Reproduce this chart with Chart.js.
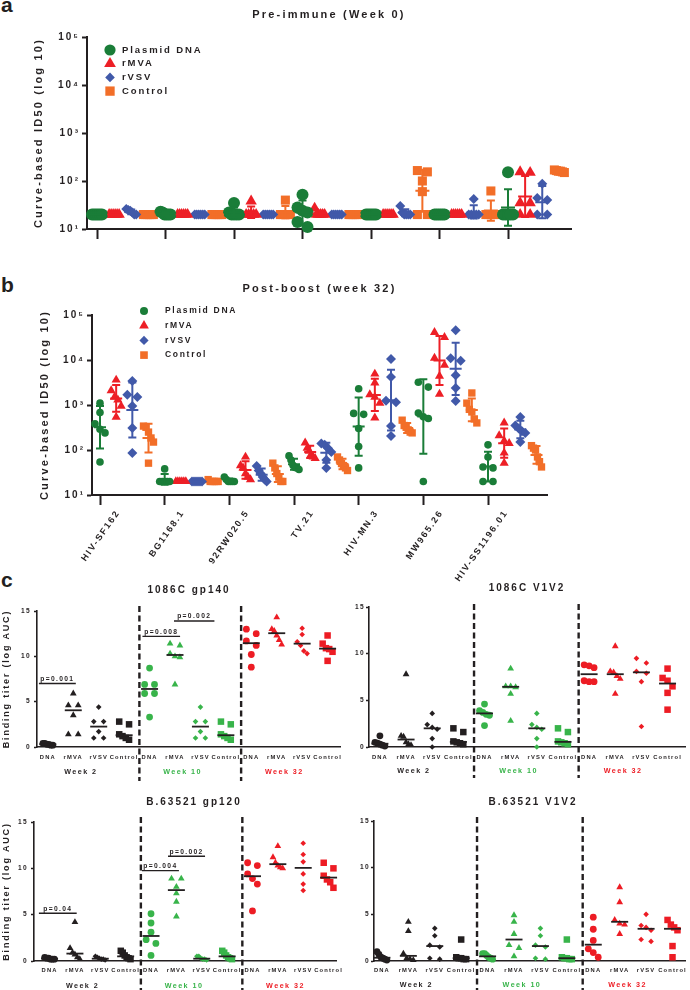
<!DOCTYPE html>
<html><head><meta charset="utf-8">
<script src="https://cdn.jsdelivr.net/npm/chart.js@4.4.1/dist/chart.umd.min.js"></script>
<style>
body{margin:0;background:#fff;}
#wrap{position:relative;width:690px;height:990px;overflow:hidden;font-family:"Liberation Sans",Arial,sans-serif;}
canvas{position:absolute;}
.lab{position:absolute;font-weight:bold;font-size:21px;line-height:24px;color:#231f20;}
</style></head><body><div id="wrap">
<div class="lab" style="left:1px;top:-7px">a</div>
<div class="lab" style="left:1px;top:273px">b</div>
<div class="lab" style="left:1px;top:568px">c</div>
</div>
<script>
// ================= DATA =================
const strains = ['HIV-SF162','BG1168.1','92RW020.5','TV.21','HIV-MN.3','MW965.26','HIV-SS1196.01'];
const vaccines = ['Plasmid DNA','rMVA','rVSV','Control'];
const decadeTicks = [1e1,1e2,1e3,1e4,1e5];

// a: pre-immune (week 0) ID50, one inner array per strain
const preDNA  = [[20,20,20,20,20,20],[23,22,20,20,20,20],[35,22,20,20,20,20],[52,28,24,22,14,11],[20,20,20,20,20,20],[20,20,20,20,20,20],[153,20,20,20,20,20]];
const preMVA  = [[20,20,20,20,20,20],[20,20,20,20,20,20],[38,20,20,20,20,20],[27,20,20,20,20,20],[20,20,20,20,20,20],[20,20,20,20,20,20],[155,150,35,35,20,20]];
const preVSV  = [[26,25,24,22,20,20],[20,20,20,20,20,20],[20,20,20,20,20,20],[20,20,20,20,20,20],[30,22,20,20,20,20],[42,20,20,20,20,20],[88,44,40,20,20]];
const preCtrl = [[20,20,20,20,20,20],[20,20,20,20,20,20],[40,20,20,20,20,20],[20,20,20,20,20,20],[165,155,100,60,20,20],[62,20,20,20,20,20],[170,165,160,160,155,150]];

// b: post-boost (week 32) ID50
const postDNA  = [[1100,680,380,290,240,54],[38,20,20,20,20,20],[25,22,20,20,20,20],[74,60,46,41,40,37],[2300,650,620,300,120,40],[3200,2500,660,550,500,20],[130,70,42,40,20,20]];
const postMVA  = [[3600,2100,1500,1300,950,540],[20,20,20,20,20,20],[70,45,40,30,25,22],[145,110,95,80,70,65],[4900,3100,1700,1500,1100,520],[41000,32000,11000,7700,4400,1750],[400,210,160,140,86,51]];
const postVSV  = [[3400,1700,1500,950,310,86],[20,20,20,20,20,20],[44,35,30,25,22,20],[140,130,110,90,60,40],[10500,4200,1250,1150,340,205],[46000,11000,9600,4600,2400,1230],[540,350,300,260,240,150]];
const postCtrl = [[340,320,250,185,150,51],[22,20,20,20,20,20],[51,40,30,25,20,20],[70,60,50,45,40,35],[460,350,320,280,250,240],[1850,1100,800,700,490,400],[125,110,100,70,55,42]];

// c: binding titers (log AUC); each week = [DNA, rMVA, rVSV, Control]
const groups = ['DNA','rMVA','rVSV','Control'];
const weeks = ['Week 2','Week 10','Week 32'];
const gp140W2  = [[0.4,0.3,0.2,0.3,0.4,0.2],[5.9,4.6,4.6,3.5,1.4,1.4],[4.4,2.8,2.8,1.7,1.0,1.0],[2.8,2.5,1.4,1.2,1.0,0.8]];
const gp140W10 = [[8.7,6.9,6.9,5.9,5.9,3.3],[11.4,11.2,10.3,10.0,9.9,6.9],[4.4,2.8,2.8,1.7,1.0,1.0],[2.8,2.5,1.4,1.2,1.0,0.8]];
const gp140W32 = [[13.0,12.5,11.7,11.2,10.2,8.8],[14.3,13.0,12.8,12.3,11.8,11.3],[13.1,12.4,11.6,11.2,10.6,10.3],[12.3,11.4,10.9,10.8,10.5,9.5]];
const cV1V2W2  = [[1.2,0.5,0.4,0.3,0.2,0.1],[7.8,1.2,1.1,0.5,0.3,0.2],[3.6,2.4,2.1,1.9,0.9,0.0],[2.0,1.6,0.6,0.5,0.4,0.3]];
const cV1V2W10 = [[4.6,3.9,3.7,3.5,3.4,2.3],[8.4,6.5,6.5,6.4,5.7,2.8],[3.6,2.4,2.1,1.9,0.9,0.0],[2.0,1.6,0.6,0.5,0.4,0.3]];
const cV1V2W32 = [[8.8,8.7,8.5,7.1,7.0,7.0],[10.8,8.1,8.0,7.6,7.3,5.7],[9.5,9.0,8.1,7.9,7.0,2.2],[8.4,7.4,7.1,6.5,5.8,4.0]];
const gp120W2  = [[0.4,0.3,0.3,0.2,0.2,0.2],[4.2,1.4,0.9,0.7,0.4,0.2],[0.5,0.4,0.3,0.2,0.2,0.1],[1.1,0.9,0.6,0.4,0.3,0.2]];
const gp120W10 = [[5.1,4.1,3.1,2.3,1.9,0.6],[8.9,8.9,8.0,7.3,6.4,4.8],[0.5,0.5,0.3,0.2,0.2,0.1],[1.1,0.9,0.6,0.4,0.3,0.2]];
const gp120W32 = [[10.6,10.3,9.4,8.9,8.3,5.4],[12.4,11.2,10.6,10.3,10.1,10.0],[12.7,11.5,10.7,9.4,8.3,7.6],[10.6,10.0,9.2,8.8,8.5,7.9]];
const bV1V2W2  = [[1.0,0.7,0.4,0.3,0.2,0.1],[4.2,3.2,0.8,0.3,0.2,0.1],[3.5,2.7,1.7,1.5,0.3,0.2],[2.3,0.4,0.3,0.3,0.2,0.2]];
const bV1V2W10 = [[0.8,0.8,0.6,0.4,0.3,0.2],[4.9,4.2,2.9,1.7,1.4,0.5],[3.5,2.7,1.7,1.5,0.3,0.2],[2.3,0.4,0.3,0.3,0.2,0.2]];
const bV1V2W32 = [[4.7,3.4,2.2,1.3,0.9,0.4],[7.9,6.3,4.4,4.0,3.9,2.9],[5.0,3.8,3.6,3.3,2.3,2.1],[4.4,3.9,3.6,3.3,1.6,0.4]];
// significance bars: group-index span, titer level, label
const pGp140 = [{x0:-0.35,x1:1.1,y:7.0,t:'p=0.001'},{x0:3.72,x1:5.2,y:12.2,t:'p=0.008'},{x0:4.96,x1:6.55,y:13.9,t:'p=0.002'}];
const pGp120 = [{x0:-0.42,x1:1.07,y:5.15,t:'p=0.04'},{x0:3.64,x1:5.1,y:9.75,t:'p=0.004'},{x0:4.67,x1:6.13,y:11.3,t:'p=0.002'}];

// ================= STYLE / HELPERS =================
const INK = '#231f20';
const FONT = '"Liberation Sans", Arial, Helvetica, sans-serif';
const COL = {dna:'#1a7d38', mva:'#ed1f26', vsv:'#4159a9', ctrl:'#f26e28'};
const weekColors = [INK, '#38b44a', '#ed1c24'];
const cStyles = ['circle','triangle','rectRot','rect'];
const cRadius = [3.4, 3.9, 2.8, 4.6];
const SUP = {1:'\u00b9',2:'\u00b2',3:'\u00b3',4:'\u2074',5:'\u2075'};
const TCRIT = [0,12.71,4.30,3.18,2.78,2.57,2.45,2.36];

Chart.defaults.font.family = FONT;
Chart.defaults.color = INK;

// letter-spaced text, like the original figure
(function(){
  const P = CanvasRenderingContext2D.prototype, ft = P.fillText;
  P.fillText = function(t, x, y){
    const m = /([\d.]+)px/.exec(this.font); const fs = m ? parseFloat(m[1]) : 10;
    const has = 'letterSpacing' in this; const prev = has ? this.letterSpacing : null;
    if (has) this.letterSpacing = (fs * 0.2).toFixed(2) + 'px';
    ft.call(this, t, x, y);
    if (has) this.letterSpacing = prev;
  };
})();

const wrap = document.getElementById('wrap');
function makeCanvas(b){
  const c = document.createElement('canvas');
  c.width = b.w; c.height = b.h;
  c.style.left = b.x + 'px'; c.style.top = b.y + 'px';
  c.style.width = b.w + 'px'; c.style.height = b.h + 'px';
  wrap.appendChild(c); return c;
}
function drawMarker(ctx, style, x, y, r){
  ctx.beginPath();
  if (style === 'circle') ctx.arc(x, y, r, 0, Math.PI*2);
  else if (style === 'triangle') {
    ctx.moveTo(x, y - r);
    ctx.lineTo(x + r*Math.sin(2*Math.PI/3), y - r*Math.cos(2*Math.PI/3));
    ctx.lineTo(x + r*Math.sin(4*Math.PI/3), y - r*Math.cos(4*Math.PI/3));
    ctx.closePath();
  } else if (style === 'rectRot') {
    ctx.moveTo(x - r, y); ctx.lineTo(x, y - r); ctx.lineTo(x + r, y); ctx.lineTo(x, y + r); ctx.closePath();
  } else { const s = r*Math.SQRT1_2; ctx.rect(x - s, y - s, 2*s, 2*s); }
  ctx.fill();
}
// deterministic scatter spreading: points that would overlap vertically are spread sideways
function swarmOffsets(vals, toPx, tolPx, maxSpread, pairStep){
  const idx = vals.map((v,i)=>i).sort((a,b)=>toPx(vals[a]) - toPx(vals[b]));
  const off = vals.map(()=>0);
  let bin = [];
  const flush = () => {
    const n = bin.length;
    if (n > 1) { const st = Math.min(pairStep, maxSpread/(n-1)); bin.forEach((k,j)=>{ off[k] = (j - (n-1)/2)*st; }); }
    bin = [];
  };
  idx.forEach(k => {
    if (bin.length && Math.abs(toPx(vals[k]) - toPx(vals[bin[bin.length-1]])) >= tolPx) flush();
    bin.push(k);
  });
  flush();
  return off;
}
function median(a){ const s = a.slice().sort((x,y)=>x-y); const n = s.length; return n%2 ? s[(n-1)/2] : (s[n/2-1]+s[n/2])/2; }

// ================= PANELS a & b (log ID50) =================
function logPanel(o){
  const cv = makeCanvas(o.box);
  const pxU = (o.lastTick - o.firstTick)/(strains.length-1);
  const xmin = (o.area.l - o.firstTick)/pxU, xmax = (o.area.r - o.firstTick)/pxU;
  const pxDec = (o.area.b - o.area.t)/4;
  const datasets = o.series.map((s, si) => {
    const pts = [];
    s.data.forEach((vals, ci) => {
      const off = swarmOffsets(vals, v => -Math.log10(v)*pxDec, o.tol, o.spread, o.pair);
      vals.forEach((v,k) => pts.push({x: ci + 0.25*si + off[k]/pxU, y: v}));
    });
    return {label: s.label, data: pts, pointStyle: s.style, pointRadius: s.r, pointHoverRadius: s.r,
      pointBackgroundColor: s.color, backgroundColor: s.color, pointBorderWidth: 0, borderColor: s.color,
      showLine: false, clip: false};
  });
  const bx = o.box.x, by = o.box.y;
  const extras = {
    id: 'extras',
    afterDatasetsDraw(chart){
      const {ctx, scales:{x, y}, chartArea} = chart;
      ctx.save();
      o.series.forEach((s, si) => {
        s.data.forEach((vals, ci) => {
          const L = vals.map(Math.log10), n = L.length;
          const m = L.reduce((a,b)=>a+b,0)/n;
          const sd = n > 1 ? Math.sqrt(L.reduce((a,b)=>a+(b-m)*(b-m),0)/(n-1)) : 0;
          const ci95 = n > 1 ? TCRIT[n-1]*sd/Math.sqrt(n) : 0;
          const px = x.getPixelForValue(ci + 0.25*si);
          const yM = y.getPixelForValue(Math.pow(10, m));
          const yHi = y.getPixelForValue(Math.pow(10, m + ci95));
          let yLo = y.getPixelForValue(Math.pow(10, m - ci95));
          const clipped = yLo > chartArea.bottom; if (clipped) yLo = chartArea.bottom;
          ctx.strokeStyle = s.color; ctx.lineWidth = 2;
          ctx.beginPath();
          if (ci95 > 0.005) {
            ctx.moveTo(px, yHi); ctx.lineTo(px, yLo);
            ctx.moveTo(px - o.cap, yHi); ctx.lineTo(px + o.cap, yHi);
            if (!clipped) { ctx.moveTo(px - o.cap, yLo); ctx.lineTo(px + o.cap, yLo); }
          }
          ctx.moveTo(px - o.meanW, yM); ctx.lineTo(px + o.meanW, yM);
          ctx.stroke();
        });
      });
      // legend
      o.series.forEach((s, i) => {
        const ly = o.legend.y0 + i*o.legend.dy - by;
        ctx.fillStyle = s.color;
        drawMarker(ctx, s.style, o.legend.x - bx, ly, s.lr);
        ctx.fillStyle = INK; ctx.font = 'bold ' + o.legend.fs + 'px ' + FONT;
        ctx.textAlign = 'left'; ctx.textBaseline = 'middle';
        ctx.fillText(s.label, o.legend.tx - bx, ly);
      });
      // title
      ctx.fillStyle = INK; ctx.font = 'bold 11px ' + FONT; ctx.textAlign = 'center'; ctx.textBaseline = 'middle';
      ctx.fillText(o.title, (chartArea.left + chartArea.right)/2, o.titleY - by);
      ctx.restore();
    }
  };
  new Chart(cv, {
    type: 'scatter',
    data: {datasets},
    plugins: [extras],
    options: {
      responsive: false, animation: false, events: [],
      layout: {padding: {left: o.padL, top: o.area.t - by, right: bx + o.box.w - o.area.r, bottom: 0}},
      plugins: {legend: {display: false}, tooltip: {enabled: false}, title: {display: false}},
      scales: {
        x: {type: 'linear', min: xmin, max: xmax,
          afterBuildTicks: s => { s.ticks = strains.map((c,i)=>({value: i})); },
          afterFit: s => { s.height = by + o.box.h - o.area.b; },
          border: {display: true, color: INK, width: 2},
          grid: {display: true, drawOnChartArea: false, drawTicks: true, tickLength: 10, tickWidth: 2, tickColor: INK},
          ticks: {display: o.showLabels, autoSkip: false, maxRotation: 55, minRotation: 55, labelOffset: o.labelOffset, padding: 3,
            color: INK, font: {size: 9, weight: 'bold'}, callback: v => strains[v]}
        },
        y: {type: 'logarithmic', min: 10, max: 1e5,
          afterBuildTicks: s => { s.ticks = decadeTicks.map(v => ({value: v})); },
          afterFit: s => { s.width = o.area.l - bx - o.padL; },
          border: {display: true, color: INK, width: 2},
          grid: {display: true, drawOnChartArea: false, drawTicks: true, tickLength: 5, tickWidth: 2, tickColor: INK},
          ticks: {padding: 2, color: INK, font: {size: 10, weight: 'bold'}, callback: v => '10' + SUP[Math.round(Math.log10(v))]},
          title: {display: true, text: 'Curve-based ID50 (log 10)', color: INK, font: {size: 11, weight: 'bold'}, padding: {top: o.titlePad, bottom: 0}}
        }
      }
    }
  });
}

logPanel({
  box: {x:0, y:0, w:690, h:245}, area: {l:87, r:571, t:37, b:229}, firstTick: 97, lastTick: 508,
  padL: 28, titlePad: 4, title: 'Pre-immune (Week 0)', titleY: 15, showLabels: false, labelOffset: 0,
  tol: 8, spread: 10, pair: 10, cap: 4, meanW: 7,
  legend: {x: 110, tx: 122, y0: 50, dy: 13.7, fs: 9.5},
  series: [
    {label: vaccines[0], color: COL.dna,  style: 'circle',   r: 6,   lr: 5.6, data: preDNA},
    {label: vaccines[1], color: COL.mva,  style: 'triangle', r: 6.6, lr: 6.8, data: preMVA},
    {label: vaccines[2], color: COL.vsv,  style: 'rectRot',  r: 5,   lr: 4.8, data: preVSV},
    {label: vaccines[3], color: COL.ctrl, style: 'rect',     r: 6.4, lr: 6.6, data: preCtrl}
  ]
});
logPanel({
  box: {x:0, y:245, w:690, h:340}, area: {l:92, r:547, t:315, b:495}, firstTick: 100, lastTick: 488,
  padL: 34, titlePad: 4, title: 'Post-boost (week 32)', titleY: 289, showLabels: true, labelOffset: 18,
  tol: 7, spread: 10, pair: 10, cap: 4, meanW: 6,
  legend: {x: 144, tx: 165, y0: 311, dy: 14.7, fs: 8.5},
  series: [
    {label: vaccines[0], color: COL.dna,  style: 'circle',   r: 3.8, lr: 4,   data: postDNA},
    {label: vaccines[1], color: COL.mva,  style: 'triangle', r: 5.3, lr: 5.6, data: postMVA},
    {label: vaccines[2], color: COL.vsv,  style: 'rectRot',  r: 5,   lr: 4.6, data: postVSV},
    {label: vaccines[3], color: COL.ctrl, style: 'rect',     r: 5.2, lr: 5.4, data: postCtrl}
  ]
});

// ================= PANEL c (binding titers) =================
function aucPanel(o){
  const cv = makeCanvas(o.box);
  const bx = o.box.x, by = o.box.y;
  const pxU = (o.lastPx - o.firstPx)/11;
  const xmin = (o.area.l - o.firstPx)/pxU, xmax = (o.area.r - o.firstPx)/pxU;
  const pxV = (o.area.b - o.area.t)/15;
  const datasets = [];
  o.weeksData.forEach((wk, wi) => wk.forEach((vals, gi) => {
    const xi = wi*4 + gi;
    const off = swarmOffsets(vals, v => -v*pxV, 6, 10, 10);
    datasets.push({label: weeks[wi] + ' ' + groups[gi], data: vals.map((v,k)=>({x: xi + off[k]/pxU, y: v})),
      pointStyle: cStyles[gi], pointRadius: cRadius[gi], pointHoverRadius: cRadius[gi],
      pointBackgroundColor: weekColors[wi], backgroundColor: weekColors[wi], pointBorderWidth: 0,
      showLine: false, clip: false});
  }));
  const extras = {
    id: 'extrasC',
    afterDatasetsDraw(chart){
      const {ctx, scales:{x, y}, chartArea} = chart;
      ctx.save();
      // medians
      ctx.strokeStyle = INK; ctx.lineWidth = 1.8;
      o.weeksData.forEach((wk, wi) => wk.forEach((vals, gi) => {
        const px = x.getPixelForValue(wi*4 + gi), py = y.getPixelForValue(median(vals));
        ctx.beginPath(); ctx.moveTo(px - 8.5, py); ctx.lineTo(px + 8.5, py); ctx.stroke();
      }));
      // dashed separators
      ctx.lineWidth = 2.4; ctx.setLineDash([6, 3.5]);
      [3.6, 7.6].forEach(v => {
        const px = x.getPixelForValue(v);
        ctx.beginPath(); ctx.moveTo(px, o.dash[0] - by); ctx.lineTo(px, o.dash[1] - by); ctx.stroke();
      });
      ctx.setLineDash([]);
      // significance bars
      ctx.lineWidth = 1.4; ctx.fillStyle = INK; ctx.font = 'bold 6.7px ' + FONT;
      ctx.textAlign = 'center'; ctx.textBaseline = 'bottom';
      (o.pvals || []).forEach(p => {
        const x0 = x.getPixelForValue(p.x0), x1 = x.getPixelForValue(p.x1), py = y.getPixelForValue(p.y);
        ctx.beginPath(); ctx.moveTo(x0, py); ctx.lineTo(x1, py); ctx.stroke();
        ctx.fillText(p.t, (x0 + x1)/2, py - 1);
      });
      // week labels
      ctx.font = 'bold 7.2px ' + FONT; ctx.textBaseline = 'middle';
      weeks.forEach((w, wi) => { ctx.fillStyle = weekColors[wi]; ctx.fillText(w, x.getPixelForValue(1.3 + 4*wi), o.weekY - by); });
      // title
      ctx.fillStyle = INK; ctx.font = 'bold 10px ' + FONT;
      ctx.fillText(o.title, o.titleX - bx, o.titleY - by);
      ctx.restore();
    }
  };
  new Chart(cv, {
    type: 'scatter',
    data: {datasets},
    plugins: [extras],
    options: {
      responsive: false, animation: false, events: [],
      layout: {padding: {left: o.padL, top: o.area.t - by, right: bx + o.box.w - o.area.r, bottom: 0}},
      plugins: {legend: {display: false}, tooltip: {enabled: false}, title: {display: false}},
      scales: {
        x: {type: 'linear', min: xmin, max: xmax,
          afterBuildTicks: s => { s.ticks = Array.from({length: 12}, (_, i) => ({value: i})); },
          afterFit: s => { s.height = by + o.box.h - o.area.b; },
          border: {display: true, color: INK, width: 1.6},
          grid: {display: false, drawTicks: false},
          ticks: {autoSkip: false, maxRotation: 0, minRotation: 0, padding: o.labPad, color: INK,
            font: {size: 5.8, weight: 'bold'}, callback: v => groups[v % 4]}
        },
        y: {type: 'linear', min: 0, max: 15,
          afterBuildTicks: s => { s.ticks = [0,5,10,15].map(v => ({value: v})); },
          afterFit: s => { s.width = o.area.l - bx - o.padL; },
          border: {display: true, color: INK, width: 1.6},
          grid: {display: true, drawOnChartArea: false, drawTicks: true, tickLength: 3, tickWidth: 1.6, tickColor: INK},
          ticks: {padding: o.tickPad, color: INK, font: {size: 6.6, weight: 'bold'}},
          title: {display: o.yTitle, text: 'Binding titer (log AUC)', color: INK, font: {size: 9, weight: 'bold'}, padding: {top: 1.6, bottom: 0}}
        }
      }
    }
  });
}

aucPanel({box: {x:0, y:578, w:345, h:207}, area: {l:37, r:345, t:611, b:747}, firstPx: 48, lastPx: 332,
  padL: 0, yTitle: true, tickPad: 3, labPad: 6.5, title: '1086C gp140', titleX: 189, titleY: 590,
  dash: [606, 781], weekY: 772, weeksData: [gp140W2, gp140W10, gp140W32], pvals: pGp140});
aucPanel({box: {x:345, y:578, w:345, h:207}, area: {l:369, r:688, t:607, b:747}, firstPx: 380, lastPx: 670,
  padL: 0, yTitle: false, tickPad: 1, labPad: 6.5, title: '1086C V1V2', titleX: 527, titleY: 588,
  dash: [604, 778], weekY: 771, weeksData: [cV1V2W2, cV1V2W10, cV1V2W32], pvals: []});
aucPanel({box: {x:0, y:792, w:345, h:198}, area: {l:34, r:345, t:822, b:961}, firstPx: 50, lastPx: 337,
  padL: 0, yTitle: true, tickPad: 3, labPad: 6, title: 'B.63521 gp120', titleX: 194, titleY: 802,
  dash: [817, 990], weekY: 986, weeksData: [gp120W2, gp120W10, gp120W32], pvals: pGp120});
aucPanel({box: {x:345, y:792, w:345, h:198}, area: {l:374, r:688, t:821, b:961}, firstPx: 382, lastPx: 675,
  padL: 0, yTitle: false, tickPad: 1, labPad: 6, title: 'B.63521 V1V2', titleX: 533, titleY: 802,
  dash: [817, 990], weekY: 985, weeksData: [bV1V2W2, bV1V2W10, bV1V2W32], pvals: []});
</script></body></html>
